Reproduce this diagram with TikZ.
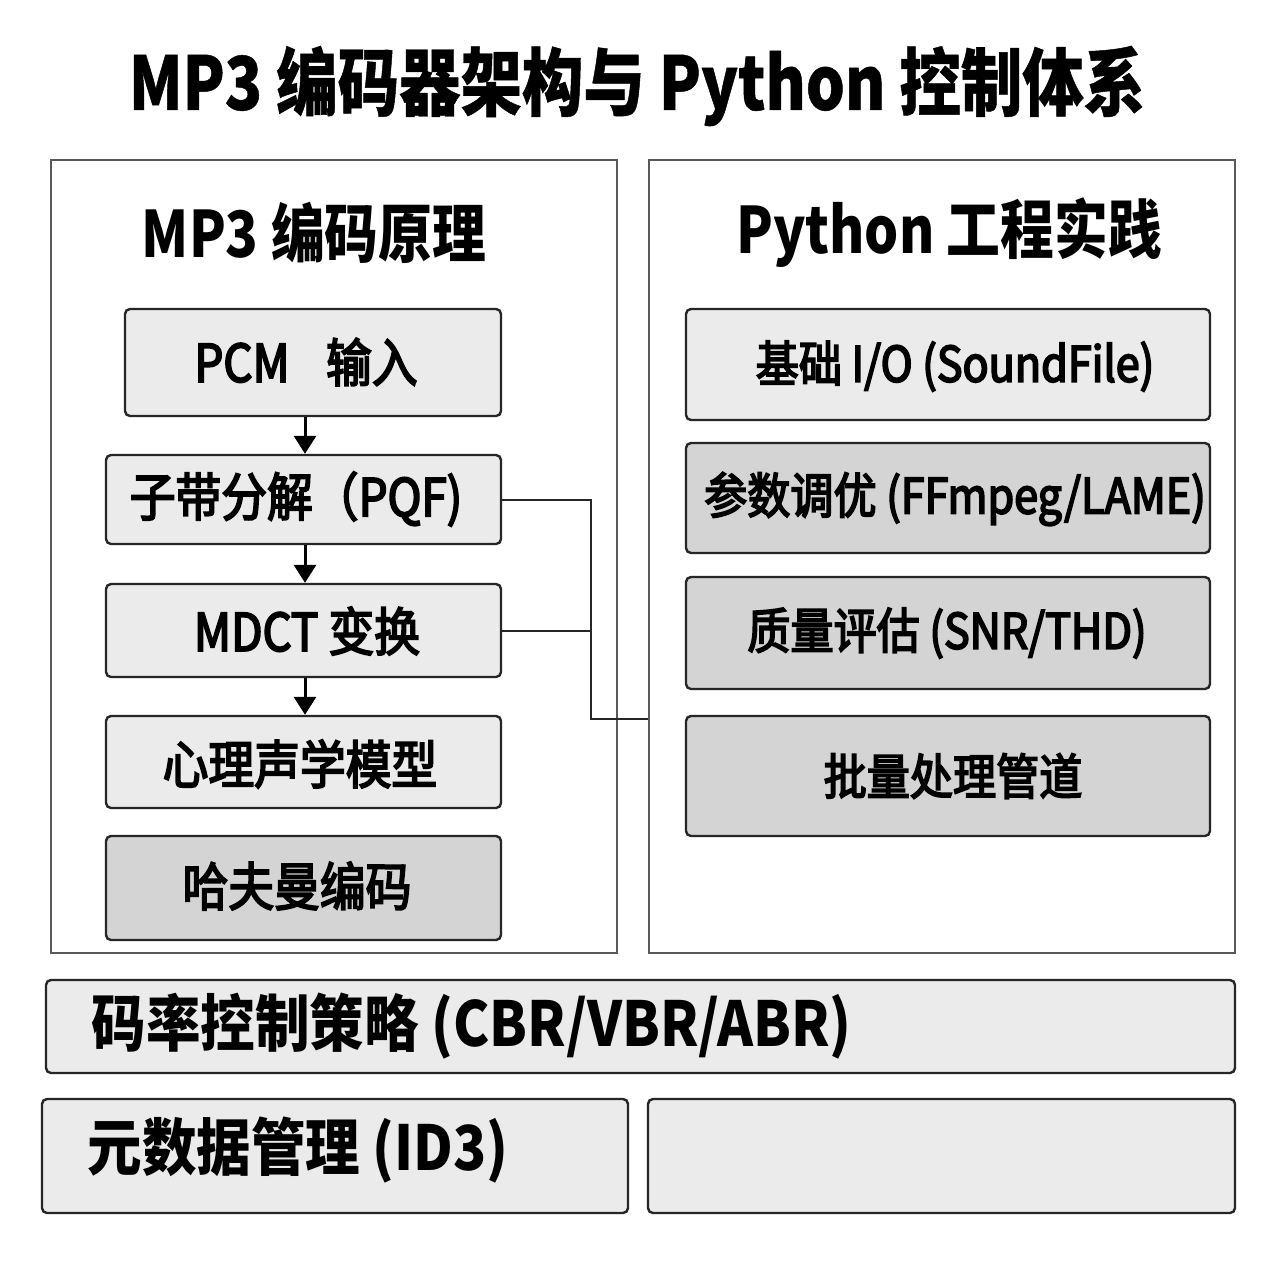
\documentclass[tikz,border=0pt]{standalone}
\usepackage{fontspec}
\setmainfont{Noto Sans CJK SC}
\newfontfamily\lblfont[FakeStretch=0.88,FakeBold=3.5]{Noto Sans CJK SC}
\newfontfamily\hdrfont[FakeStretch=0.84]{Noto Sans CJK SC}
\newfontfamily\titfont[FakeStretch=0.83,BoldFeatures={FakeBold=0.6}]{Noto Sans CJK SC}
\newfontfamily\botfont[FakeStretch=0.88]{Noto Sans CJK SC}
\usetikzlibrary{arrows.meta}
\begin{document}
\begin{tikzpicture}[x=1pt,y=-1pt,
  panel/.style={draw=black!65,line width=1.6pt,fill=white,inner sep=0pt},
  box/.style={draw=black!85,line width=2.4pt,rounded corners=5pt,fill=black!8,inner sep=0pt},
  dbox/.style={box,fill=black!17},
  lbl/.style={font=\lblfont\fontsize{52}{58}\selectfont},
  rlbl/.style={font=\lblfont\fontsize{49}{55}\selectfont},
  blbl/.style={font=\botfont\fontsize{62}{68}\selectfont\bfseries},
  hdr/.style={font=\hdrfont\fontsize{64}{70}\selectfont\bfseries},
  conn/.style={draw=black!85,line width=2pt},
  arr/.style={draw=black,line width=3pt,-{Triangle[length=18pt,width=22pt]}}
]
\useasboundingbox[fill=white] (0,0) rectangle (1280,1280);
\node[font=\titfont\fontsize{74}{80}\selectfont\bfseries] (title) at (637,86) {MP3 编码器架构与 Python 控制体系};

% panels
\node[panel,minimum width=566pt,minimum height=793pt] (lp) at (334,556.5) {};
\node[panel,minimum width=586pt,minimum height=793pt] (rp) at (942,556.5) {};
\node[hdr] (lh) at (314,233) {MP3 编码原理};
\node[hdr] (rh) at (949,233) {Python 工程实践};

% left boxes
\node[box,minimum width=376pt,minimum height=107pt] (pcm) at (313,362.5) {};
\node[lbl] (pcmt) at (306,362) {PCM\hspace{0.7em}输入};
\node[box,minimum width=395pt,minimum height=89pt] (sub) at (303.5,499.5) {};
\node[lbl] (subt) at (296,499) {子带分解（PQF)};
\node[box,minimum width=395pt,minimum height=93pt] (mdct) at (303.5,630.5) {};
\node[lbl] (mdctt) at (307,631) {MDCT 变换};
\node[box,minimum width=395pt,minimum height=92pt] (psy) at (303.5,762) {};
\node[lbl] (psyt) at (300,764) {心理声学模型};
\node[dbox,minimum width=395pt,minimum height=104pt] (huf) at (303.5,888) {};
\node[lbl] (huft) at (297,886) {哈夫曼编码};

\draw[arr] (pcm.south -| 305,0) -- (sub.north -| 305,0);
\draw[arr] (sub.south -| 305,0) -- (mdct.north -| 305,0);
\draw[arr] (mdct.south -| 305,0) -- (psy.north -| 305,0);

% right boxes
\node[box,minimum width=524pt,minimum height=111pt] (io) at (948,364.5) {};
\node[rlbl] (iot) at (955,366) {基础 I/O (SoundFile)};
\node[dbox,minimum width=524pt,minimum height=110pt] (par) at (948,498) {};
\node[rlbl] (part) at (955,499) {参数调优 (FFmpeg/LAME)};
\node[dbox,minimum width=524pt,minimum height=112pt] (qa) at (948,633) {};
\node[rlbl] (qat) at (947,633) {质量评估 (SNR/THD)};
\node[dbox,minimum width=524pt,minimum height=120pt] (bat) at (948,776) {};
\node[rlbl] (batt) at (953,776) {批量处理管道};

% connectors
\coordinate (j) at (591,719);
\draw[conn] (sub.east) -| (j) -- (j -| rp.west);
\draw[conn] (mdct.east) -- (mdct.east -| j);

% bottom
\node[box,minimum width=1189pt,minimum height=93pt] (rate) at (640.5,1026.5) {};
\node[blbl,anchor=west] (ratet) at (88,1026) {码率控制策略 (CBR/VBR/ABR)};
\node[box,minimum width=586pt,minimum height=114pt] (meta) at (335,1156) {};
\node[blbl,anchor=west] (metat) at (84,1150) {元数据管理 (ID3)};
\node[box,minimum width=587pt,minimum height=114pt] (empty) at (941.5,1156) {};
\end{tikzpicture}
\end{document}
